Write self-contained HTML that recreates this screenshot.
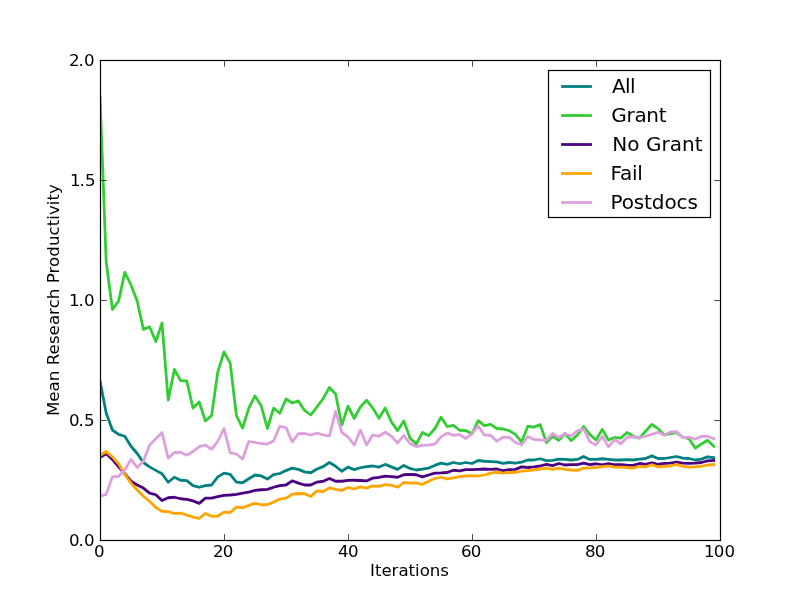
<!DOCTYPE html>
<html lang="en">
<head>
<meta charset="utf-8">
<title>Mean Research Productivity</title>
<style>
html,body{margin:0;padding:0;background:#fff;}
body{width:800px;height:600px;overflow:hidden;}
svg{display:block;}
text{font-family:"DejaVu Sans","Liberation Sans",sans-serif;fill:#000;}
.tk{font-size:16.67px;}
.lg{font-size:20px;}
.ln{fill:none;stroke-width:2.78;stroke-linejoin:round;stroke-linecap:square;}
.tick{stroke:#000;stroke-width:0.7;fill:none;}
.fr{fill:none;stroke:#000;stroke-width:1.2;}
</style>
</head>
<body>
<svg width="800" height="600" viewBox="0 0 800 600">
<rect x="0" y="0" width="800" height="600" fill="#ffffff"/>
<defs><clipPath id="ax"><rect x="100" y="60" width="620" height="480"/></clipPath></defs>
<g clip-path="url(#ax)">
<polyline class="ln" stroke="#008080" points="100.00,381.00 106.20,413.10 112.40,430.00 118.60,434.40 124.80,436.25 131.00,446.25 137.20,453.50 143.40,462.50 149.60,466.90 155.80,470.40 162.00,473.75 168.20,482.25 174.40,477.25 180.60,480.25 186.80,480.60 193.00,485.60 199.20,487.25 205.40,485.60 211.60,485.00 217.80,476.90 224.00,473.10 230.20,474.40 236.40,482.10 242.60,482.75 248.80,478.75 255.00,475.00 261.20,475.90 267.40,479.10 273.60,474.60 279.80,473.50 286.00,470.60 292.20,468.10 298.40,469.40 304.60,471.90 310.80,472.75 317.00,469.00 323.20,466.60 329.40,462.50 335.60,466.25 341.80,471.25 348.00,467.10 354.20,469.60 360.40,467.75 366.60,466.60 372.80,466.00 379.00,467.10 385.20,464.40 391.40,466.90 397.60,469.40 403.80,465.40 410.00,468.40 416.20,470.00 422.40,469.10 428.60,468.10 434.80,465.40 441.00,463.10 447.20,464.40 453.40,462.50 459.60,463.75 465.80,462.50 472.00,463.50 478.20,460.50 484.40,461.25 490.60,461.60 496.80,461.90 503.00,463.40 509.20,462.50 515.40,463.10 521.60,462.10 527.80,460.00 534.00,460.00 540.20,458.75 546.40,460.60 552.60,460.40 558.80,459.10 565.00,459.40 571.20,460.00 577.40,459.40 583.60,456.50 589.80,459.40 596.00,459.40 602.20,458.75 608.40,459.40 614.60,460.00 620.80,460.00 627.00,459.60 633.20,460.00 639.40,459.10 645.60,458.50 651.80,455.90 658.00,458.50 664.20,458.50 670.40,457.50 676.60,456.50 682.80,458.10 689.00,458.50 695.20,460.00 701.40,459.10 707.60,456.90 713.80,457.75"/>
<polyline class="ln" stroke="#32cd32" points="100.00,96.20 106.20,262.00 112.40,309.40 118.60,301.00 124.80,272.40 131.00,285.00 137.20,301.00 143.40,329.40 149.60,326.80 155.80,341.50 162.00,323.10 168.20,400.00 174.40,369.40 180.60,380.60 186.80,381.00 193.00,408.10 199.20,402.00 205.40,421.00 211.60,415.60 217.80,371.90 224.00,351.90 230.20,363.10 236.40,415.60 242.60,428.10 248.80,408.10 255.00,395.90 261.20,405.80 267.40,428.50 273.60,408.10 279.80,413.20 286.00,399.00 292.20,403.00 298.40,400.90 304.60,410.40 310.80,415.00 317.00,406.90 323.20,398.50 329.40,387.50 335.60,394.00 341.80,425.00 348.00,406.25 354.20,418.50 360.40,406.90 366.60,400.25 372.80,408.10 379.00,418.30 385.20,408.00 391.40,421.90 397.60,430.60 403.80,420.90 410.00,438.10 416.20,444.10 422.40,432.50 428.60,435.60 434.80,428.75 441.00,417.25 447.20,426.60 453.40,425.40 459.60,430.25 465.80,430.60 472.00,433.75 478.20,420.60 484.40,425.60 490.60,424.40 496.80,428.50 503.00,429.00 509.20,430.60 515.40,434.40 521.60,442.10 527.80,426.25 534.00,427.10 540.20,424.60 546.40,442.50 552.60,436.25 558.80,440.25 565.00,433.50 571.20,440.60 577.40,435.00 583.60,426.50 589.80,434.40 596.00,440.00 602.20,429.40 608.40,440.00 614.60,437.50 620.80,438.10 627.00,432.50 633.20,436.25 639.40,438.10 645.60,431.25 651.80,424.50 658.00,428.60 664.20,435.00 670.40,433.75 676.60,432.75 682.80,437.25 689.00,438.75 695.20,448.10 701.40,444.00 707.60,440.25 713.80,446.25"/>
<polyline class="ln" stroke="#4b0082" points="100.00,457.50 106.20,453.75 112.40,459.40 118.60,466.90 124.80,473.75 131.00,481.25 137.20,485.00 143.40,488.10 149.60,493.10 155.80,494.75 162.00,500.60 168.20,497.75 174.40,497.25 180.60,498.75 186.80,499.40 193.00,500.90 199.20,503.40 205.40,498.10 211.60,498.10 217.80,496.60 224.00,495.40 230.20,495.00 236.40,494.40 242.60,493.10 248.80,492.10 255.00,490.40 261.20,489.75 267.40,489.40 273.60,487.25 279.80,485.60 286.00,485.00 292.20,480.80 298.40,483.10 304.60,485.00 310.80,485.00 317.00,482.10 323.20,481.25 329.40,478.50 335.60,481.25 341.80,481.25 348.00,480.40 354.20,480.25 360.40,480.50 366.60,480.90 372.80,478.10 379.00,477.30 385.20,476.10 391.40,476.60 397.60,477.25 403.80,474.75 410.00,474.40 416.20,474.75 422.40,476.90 428.60,475.00 434.80,473.10 441.00,472.90 447.20,472.50 453.40,470.25 459.60,470.90 465.80,469.60 472.00,469.60 478.20,469.30 484.40,469.00 490.60,469.40 496.80,469.00 503.00,470.60 509.20,469.60 515.40,469.40 521.60,466.90 527.80,467.50 534.00,466.90 540.20,466.00 546.40,464.40 552.60,465.60 558.80,463.50 565.00,465.00 571.20,464.60 577.40,464.60 583.60,463.10 589.80,464.60 596.00,463.75 602.20,464.75 608.40,463.50 614.60,464.75 620.80,464.75 627.00,465.25 633.20,465.40 639.40,463.50 645.60,464.40 651.80,462.75 658.00,464.40 664.20,463.50 670.40,463.10 676.60,462.10 682.80,463.10 689.00,463.40 695.20,463.10 701.40,462.50 707.60,460.90 713.80,460.40"/>
<polyline class="ln" stroke="#ffa500" points="100.00,455.60 106.20,451.50 112.40,456.90 118.60,463.75 124.80,474.40 131.00,483.10 137.20,490.00 143.40,496.25 149.60,501.25 155.80,507.50 162.00,511.25 168.20,511.60 174.40,513.50 180.60,513.10 186.80,515.00 193.00,517.10 199.20,518.50 205.40,513.40 211.60,516.25 217.80,516.00 224.00,512.10 230.20,512.50 236.40,507.10 242.60,507.75 248.80,505.40 255.00,503.40 261.20,504.75 267.40,504.75 273.60,502.10 279.80,499.10 286.00,498.10 292.20,494.20 298.40,493.50 304.60,493.75 310.80,496.50 317.00,490.90 323.20,491.50 329.40,487.90 335.60,489.40 341.80,490.40 348.00,487.50 354.20,489.00 360.40,486.90 366.60,488.10 372.80,485.90 379.00,486.40 385.20,484.60 391.40,485.25 397.60,487.25 403.80,482.50 410.00,483.10 416.20,482.90 422.40,484.40 428.60,481.25 434.80,478.50 441.00,477.25 447.20,479.00 453.40,477.90 459.60,476.60 465.80,476.00 472.00,475.60 478.20,476.00 484.40,475.00 490.60,473.10 496.80,472.25 503.00,473.10 509.20,472.50 515.40,472.50 521.60,471.00 527.80,470.60 534.00,469.75 540.20,469.00 546.40,468.10 552.60,469.40 558.80,468.10 565.00,469.40 571.20,470.00 577.40,470.40 583.60,468.10 589.80,467.90 596.00,467.50 602.20,466.60 608.40,466.00 614.60,467.10 620.80,467.10 627.00,467.50 633.20,468.10 639.40,466.25 645.60,466.90 651.80,464.75 658.00,466.90 664.20,466.25 670.40,466.00 676.60,464.40 682.80,466.25 689.00,467.10 695.20,466.90 701.40,466.25 707.60,465.00 713.80,464.60"/>
<polyline class="ln" stroke="#dda0dd" points="100.00,496.25 106.20,494.40 112.40,476.90 118.60,476.25 124.80,470.00 131.00,459.40 137.20,467.50 143.40,461.25 149.60,445.00 155.80,438.75 162.00,432.50 168.20,458.10 174.40,452.50 180.60,452.25 186.80,455.20 193.00,451.50 199.20,446.60 205.40,445.00 211.60,449.40 217.80,441.25 224.00,428.50 230.20,452.90 236.40,454.00 242.60,459.00 248.80,441.50 255.00,442.50 261.20,443.50 267.40,444.10 273.60,441.00 279.80,426.25 286.00,427.50 292.20,441.90 298.40,433.75 304.60,433.50 310.80,435.00 317.00,433.10 323.20,435.00 329.40,436.00 335.60,411.25 341.80,432.50 348.00,436.90 354.20,445.00 360.40,430.00 366.60,445.00 372.80,435.00 379.00,436.25 385.20,432.10 391.40,436.25 397.60,442.90 403.80,435.40 410.00,443.50 416.20,446.60 422.40,445.40 428.60,445.00 434.80,444.10 441.00,436.90 447.20,433.10 453.40,435.25 459.60,434.60 465.80,438.50 472.00,433.60 478.20,426.00 484.40,435.00 490.60,435.25 496.80,441.25 503.00,437.10 509.20,437.25 515.40,442.50 521.60,444.75 527.80,436.50 534.00,439.40 540.20,440.00 546.40,440.25 552.60,433.50 558.80,437.50 565.00,433.75 571.20,436.00 577.40,430.90 583.60,429.00 589.80,441.60 596.00,445.00 602.20,436.25 608.40,446.90 614.60,439.60 620.80,443.75 627.00,437.50 633.20,436.90 639.40,437.50 645.60,436.25 651.80,434.40 658.00,432.25 664.20,435.20 670.40,431.90 676.60,431.60 682.80,437.75 689.00,437.25 695.20,439.00 701.40,436.50 707.60,436.25 713.80,438.75"/>
</g>
<path class="tick" d="M100.5 540.5v-6.3M100.5 60.5v6.3M224.5 540.5v-6.3M224.5 60.5v6.3M348.5 540.5v-6.3M348.5 60.5v6.3M472.5 540.5v-6.3M472.5 60.5v6.3M596.5 540.5v-6.3M596.5 60.5v6.3M720.5 540.5v-6.3M720.5 60.5v6.3M100.5 540.5h6.3M720.5 540.5h-6.3M100.5 420.5h6.3M720.5 420.5h-6.3M100.5 300.5h6.3M720.5 300.5h-6.3M100.5 180.5h6.3M720.5 180.5h-6.3M100.5 60.5h6.3M720.5 60.5h-6.3"/>
<rect class="fr" x="100.5" y="60.5" width="620" height="480"/>
<rect class="fr" x="548.5" y="70.5" width="162" height="147" style="fill:#fff"/>
<line x1="561.1" y1="86.50" x2="591.9" y2="86.50" stroke="#008080" stroke-width="2.78"/>
<line x1="561.1" y1="115.50" x2="591.9" y2="115.50" stroke="#32cd32" stroke-width="2.78"/>
<line x1="561.1" y1="144.50" x2="591.9" y2="144.50" stroke="#4b0082" stroke-width="2.78"/>
<line x1="561.1" y1="173.50" x2="591.9" y2="173.50" stroke="#ffa500" stroke-width="2.78"/>
<line x1="561.1" y1="202.50" x2="591.9" y2="202.50" stroke="#dda0dd" stroke-width="2.78"/>
<text class="tk" x="94" y="557">0</text>
<text class="tk" x="213 222.7" y="557">20</text>
<text class="tk" x="338 348" y="557">40</text>
<text class="tk" x="461 470.7" y="557">60</text>
<text class="tk" x="585 594.7" y="557">80</text>
<text class="tk" x="704 713.7 724.4" y="557">100</text>
<text class="tk" x="69 78.5 84" y="546">0.0</text>
<text class="tk" x="69 78.5 84" y="426">0.5</text>
<text class="tk" x="69 78.5 84" y="306">1.0</text>
<text class="tk" x="70 79.5 85" y="186">1.5</text>
<text class="tk" x="69 78.5 84" y="66">2.0</text>
<text class="tk" x="370.05" y="576.00" letter-spacing="-0.042">Iterations</text>
<text class="tk" transform="translate(58.70,416.12) rotate(-90)" letter-spacing="0.036">Mean Research Productivity</text>
<text class="lg" x="611.89" y="93.00" letter-spacing="-0.550">All</text>
<text class="lg" x="611.30" y="122.00" letter-spacing="-0.300">Grant</text>
<text class="lg" x="612.20" y="151.00" letter-spacing="0.046">No Grant</text>
<text class="lg" x="610.40" y="180.00" letter-spacing="-0.170">Fail</text>
<text class="lg" x="610.40" y="209.00" letter-spacing="-0.100">Postdocs</text>
</svg>
</body>
</html>
